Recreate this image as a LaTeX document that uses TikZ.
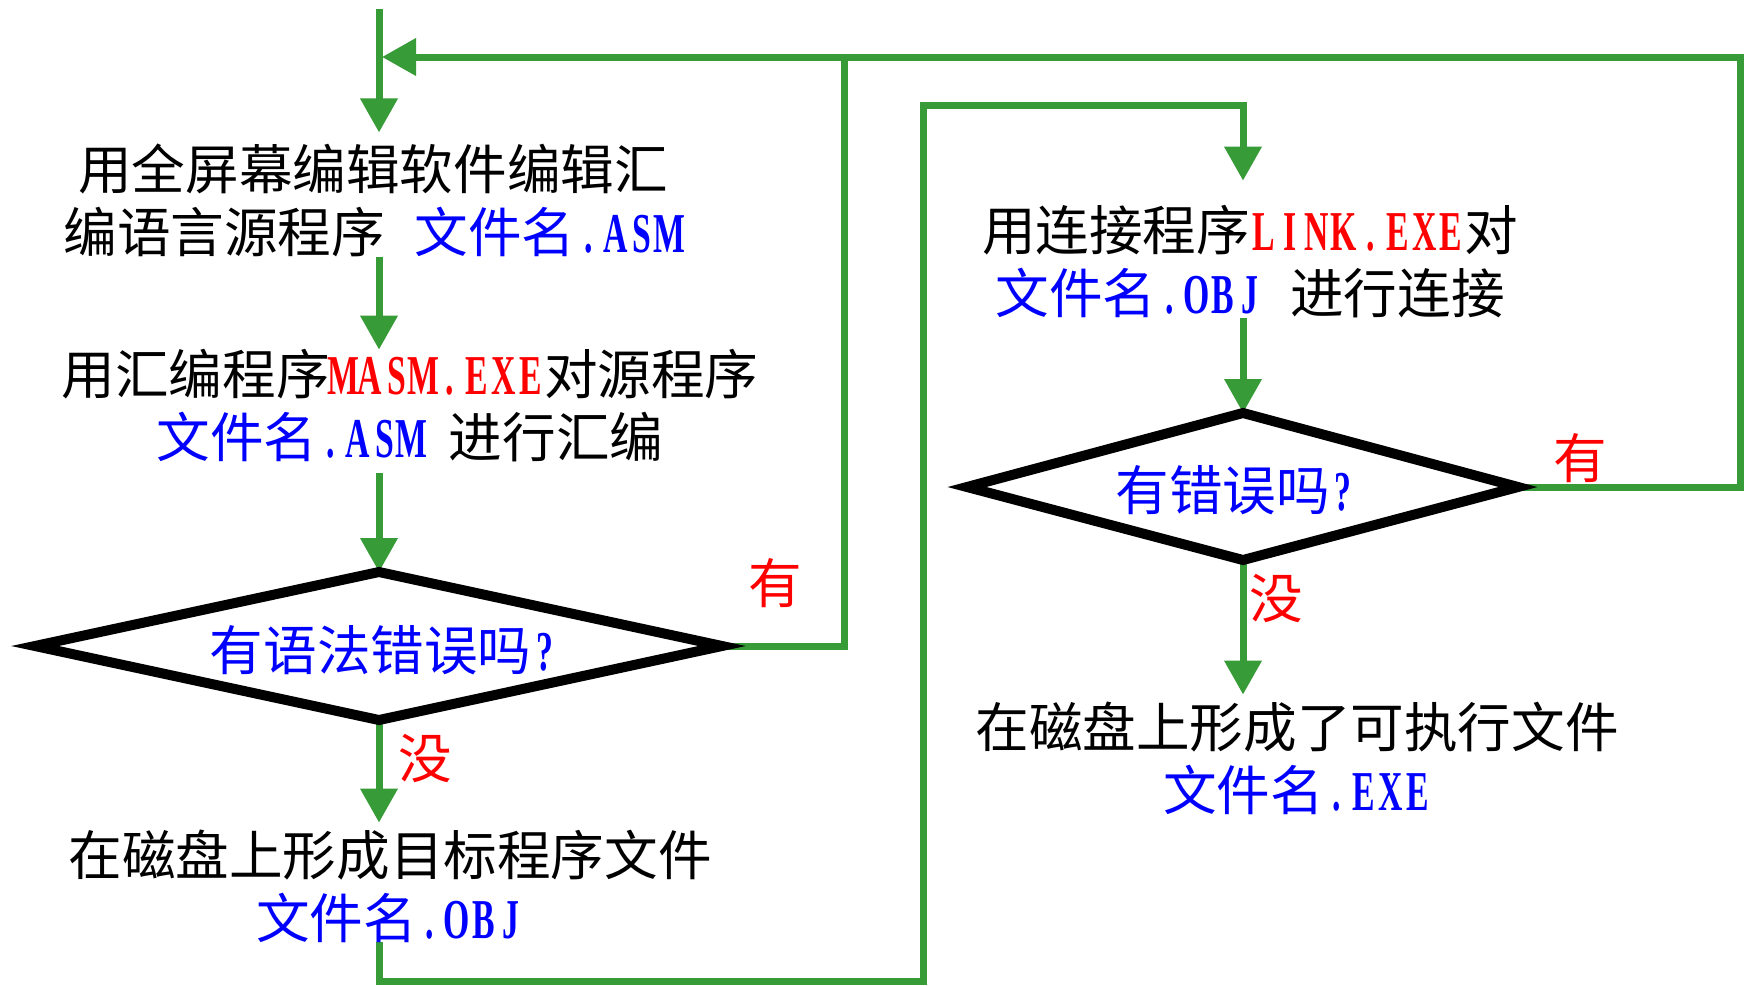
\documentclass[tikz,border=0pt]{standalone}
\usepackage{fontspec}
\setmainfont{Noto Sans CJK SC}
\newfontfamily\lat[FakeStretch=0.6,Scale=1.05]{Liberation Serif}
\usetikzlibrary{arrows.meta,backgrounds}
\definecolor{fgreen}{RGB}{55,155,55}
\definecolor{fblue}{RGB}{0,0,255}
\definecolor{fred}{RGB}{255,0,0}
\makeatletter
\def\lt#1{\lt@loop#1\relax}
\def\lt@loop#1{\ifx#1\relax\else\makebox[0.5em]{\lat\bfseries#1}\expandafter\lt@loop\fi}
\makeatother
\begin{document}
\begin{tikzpicture}[x=0.5pt,y=-0.5pt,
  txt/.style={inner sep=0pt,outer sep=0pt,align=center,font=\fontsize{26.8pt}{31.5pt}\selectfont},
  diab/.style={draw=black,line width=5pt,line join=miter},
  lbl/.style={txt,text=fred},
  ln/.style={line width=3.5pt,draw=fgreen,line join=miter},
  arr/.style={ln,-{Triangle[length=17pt,width=18pt]}}]
\useasboundingbox (0,0) rectangle (1748,985);
\node[txt] (t1) at (373,200) {用全屏幕编辑软件编辑汇\\编语言源程序\hspace{0.55em}\textcolor{fblue}{文件名\lt{.ASM}}};
\node[txt] (t2) at (410,406) {用汇编程序\textcolor{fred}{\lt{MASM.EXE}}对源程序\\\textcolor{fblue}{文件名\lt{.ASM}}\hspace{0.45em}进行汇编};
% diamond 1
\coordinate (d1l) at (35,646);
\coordinate (d1t) at (379,572);
\coordinate (d1r) at (722,646);
\coordinate (d1b) at (379,720);
\draw[diab] (d1l) -- (d1t) -- (d1r) -- (d1b) -- cycle;
\node[txt,text=fblue] (d1) at (384,650) {有语法错误吗\lt{?}};
\node[txt] (t3) at (390,886) {在磁盘上形成目标程序文件\\\textcolor{fblue}{文件名\lt{.OBJ}}};
\node[txt] (t4) at (1250,262) {用连接程序\textcolor{fred}{\lt{LINK.EXE}}对\\\textcolor{fblue}{文件名\lt{.OBJ}}\hspace{0.5em}进行连接};
% diamond 2
\coordinate (d2l) at (967,487);
\coordinate (d2t) at (1243,413);
\coordinate (d2r) at (1518,487);
\coordinate (d2b) at (1243,560);
\draw[diab] (d2l) -- (d2t) -- (d2r) -- (d2b) -- cycle;
\node[txt,text=fblue] (d2) at (1236,490) {有错误吗\lt{?}};
\node[txt] (t5) at (1297,758) {在磁盘上形成了可执行文件\\\textcolor{fblue}{文件名\lt{.EXE}}};
\node[lbl] (y1) at (775,583) {有};
\node[lbl] (n1) at (425,758) {没};
\node[lbl] (y2) at (1580,458) {有};
\node[lbl] (n2) at (1276,598) {没};
\coordinate (start) at (379,9);
\coordinate (j1) at (844,57);
\coordinate (j2) at (1740,57);
\coordinate (c1) at (923,981);
\coordinate (c2) at (1243,105);
\begin{scope}[on background layer]
\fill[white] (0,0) rectangle (1748,985);
\draw[arr,shorten >=5.5pt] (start) -- (start |- t1.north);
\draw[arr] (start |- t1.south) -- (start |- t2.north);
\draw[arr,shorten <=5.5pt] (start |- t2.south) -- (d1t);
\draw[arr,shorten >=3.5pt] (d1b) -- (d1b |- t3.north);
\draw[arr,shorten >=1.5pt] (d1r) -| (j1) -- (j1 -| start);
\draw[ln] (d2r) -| (j2) -- (j1);
\draw[arr,shorten >=12.5pt] (start |- t3.south) |- (c1) |- (c2) -- (c2 |- t4.north);
\draw[arr] (c2 |- t4.south) -- (d2t);
\draw[arr,shorten >=3.5pt] (d2b) -- (d2b |- t5.north);
\end{scope}
\end{tikzpicture}
\end{document}
